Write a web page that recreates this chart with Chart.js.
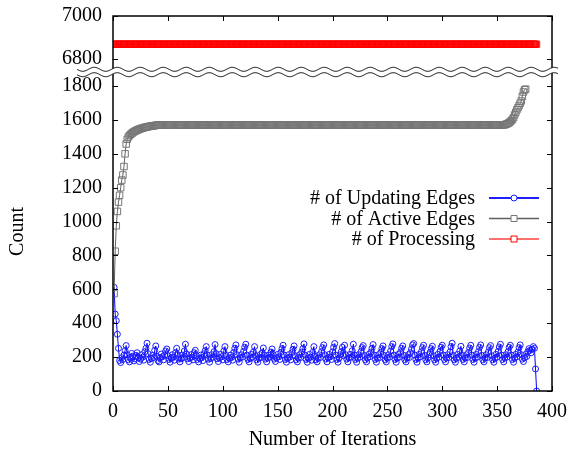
<!DOCTYPE html>
<html>
<head>
<meta charset="utf-8">
<script src="https://cdn.jsdelivr.net/npm/chart.js@4.4.1/dist/chart.umd.min.js"></script>
<style>
html,body{margin:0;padding:0;background:#fff;}
#wrap{width:580px;height:453px;position:relative;}
</style>
</head>
<body>
<div id="wrap"><canvas id="c" width="580" height="453"></canvas></div>
<script>
// ---------- DATA ----------
const seriesLabels = ['# of Updating Edges', '# of Active Edges', '# of Processing'];
const xTickValues = [0, 50, 100, 150, 200, 250, 300, 350, 400];
const yLowerTicks = [0, 200, 400, 600, 800, 1000, 1200, 1400, 1600, 1800];
const yUpperTicks = [6800, 7000];

// iterations 1..386
const updatingEdges = [
612,454,415,335,252,180,168,196,186,212,
238,268,214,184,172,198,222,206,178,190,
210,226,196,174,188,214,200,182,232,252,
282,220,186,170,192,210,198,240,266,204,
180,172,196,218,202,184,212,236,248,208,
186,170,194,214,200,182,226,252,214,188,
172,190,212,198,236,276,218,190,174,196,
214,200,184,226,240,208,186,172,194,212,
198,180,220,238,262,212,188,170,192,214,
200,232,274,220,190,174,196,216,202,184,
236,262,210,186,172,194,212,198,182,228,
252,272,214,188,170,196,214,200,234,258,
276,212,186,172,192,216,200,230,262,208,
184,170,196,214,198,226,254,212,188,172,
194,212,200,230,248,214,188,174,196,216,
202,186,228,250,270,212,186,170,194,214,
200,184,226,246,266,208,184,172,196,214,
198,230,250,278,212,186,170,194,216,200,
182,228,262,208,184,172,194,214,198,232,
256,272,214,188,172,196,216,202,186,230,
258,280,212,186,170,194,214,232,258,208,
270,214,188,172,196,216,200,238,276,212,
186,170,194,214,200,232,256,268,210,184,
172,196,216,202,230,252,274,212,186,170,
194,214,198,228,250,266,210,184,172,196,
214,200,236,262,278,212,186,170,194,216,
200,230,252,266,210,184,172,196,214,198,
226,248,272,280,212,186,170,194,216,202,
232,256,270,210,184,172,196,214,228,250,
264,208,184,170,194,216,200,234,258,270,
212,186,172,196,214,198,230,262,282,210,
184,170,194,216,200,236,264,210,186,172,
196,214,198,228,254,270,212,186,170,194,
216,200,232,258,272,210,184,172,196,214,
198,230,256,268,208,184,170,194,216,200,
234,260,276,212,186,172,196,214,200,232,
258,270,212,186,170,194,216,202,230,256,
272,214,188,174,196,216,204,232,250,240,
226,246,262,252,130,0
];

const activeEdges = [
575,825,975,1060,1115,1155,1200,1245,1275,1325,
1400,1458,1486,1500,1508,1515,1520,1525,1530,1534,
1537,1540,1543,1546,1548,1550,1552,1554,1556,1557,
1559,1560,1562,1563,1564,1565,1566,1567,1568,1569,
1570,1570,1570,1570,1570,1570,1570,1570,1570,1570,
1570,1570,1570,1570,1570,1570,1570,1570,1570,1570,
1570,1570,1570,1570,1570,1570,1570,1570,1570,1570,
1570,1570,1570,1570,1570,1570,1570,1570,1570,1570,
1570,1570,1570,1570,1570,1570,1570,1570,1570,1570,
1570,1570,1570,1570,1570,1570,1570,1570,1570,1570,
1570,1570,1570,1570,1570,1570,1570,1570,1570,1570,
1570,1570,1570,1570,1570,1570,1570,1570,1570,1570,
1570,1570,1570,1570,1570,1570,1570,1570,1570,1570,
1570,1570,1570,1570,1570,1570,1570,1570,1570,1570,
1570,1570,1570,1570,1570,1570,1570,1570,1570,1570,
1570,1570,1570,1570,1570,1570,1570,1570,1570,1570,
1570,1570,1570,1570,1570,1570,1570,1570,1570,1570,
1570,1570,1570,1570,1570,1570,1570,1570,1570,1570,
1570,1570,1570,1570,1570,1570,1570,1570,1570,1570,
1570,1570,1570,1570,1570,1570,1570,1570,1570,1570,
1570,1570,1570,1570,1570,1570,1570,1570,1570,1570,
1570,1570,1570,1570,1570,1570,1570,1570,1570,1570,
1570,1570,1570,1570,1570,1570,1570,1570,1570,1570,
1570,1570,1570,1570,1570,1570,1570,1570,1570,1570,
1570,1570,1570,1570,1570,1570,1570,1570,1570,1570,
1570,1570,1570,1570,1570,1570,1570,1570,1570,1570,
1570,1570,1570,1570,1570,1570,1570,1570,1570,1570,
1570,1570,1570,1570,1570,1570,1570,1570,1570,1570,
1570,1570,1570,1570,1570,1570,1570,1570,1570,1570,
1570,1570,1570,1570,1570,1570,1570,1570,1570,1570,
1570,1570,1570,1570,1570,1570,1570,1570,1570,1570,
1570,1570,1570,1570,1570,1570,1570,1570,1570,1570,
1570,1570,1570,1570,1570,1570,1570,1570,1570,1570,
1570,1570,1570,1570,1570,1570,1570,1570,1570,1570,
1570,1570,1570,1570,1570,1570,1570,1570,1570,1570,
1570,1570,1570,1570,1570,
1571,1572,1574,1577,1580,1584,1590,1596,1604,1614,
1630,1645,1660,1672,1685,1698,1712,1740,1765,1778,
1782
];

const processing = [
6868,6868,6868,6868,6868,6868,6868,6868,6868,6868,
6868,6868,6868,6868,6868,6868,6868,6868,6868,6868,
6868,6868,6868,6868,6868,6868,6868,6868,6868,6868,
6868,6868,6868,6868,6868,6868,6868,6868,6868,6868,
6868,6868,6868,6868,6868,6868,6868,6868,6868,6868,
6868,6868,6868,6868,6868,6868,6868,6868,6868,6868,
6868,6868,6868,6868,6868,6868,6868,6868,6868,6868,
6868,6868,6868,6868,6868,6868,6868,6868,6868,6868,
6868,6868,6868,6868,6868,6868,6868,6868,6868,6868,
6868,6868,6868,6868,6868,6868,6868,6868,6868,6868,
6868,6868,6868,6868,6868,6868,6868,6868,6868,6868,
6868,6868,6868,6868,6868,6868,6868,6868,6868,6868,
6868,6868,6868,6868,6868,6868,6868,6868,6868,6868,
6868,6868,6868,6868,6868,6868,6868,6868,6868,6868,
6868,6868,6868,6868,6868,6868,6868,6868,6868,6868,
6868,6868,6868,6868,6868,6868,6868,6868,6868,6868,
6868,6868,6868,6868,6868,6868,6868,6868,6868,6868,
6868,6868,6868,6868,6868,6868,6868,6868,6868,6868,
6868,6868,6868,6868,6868,6868,6868,6868,6868,6868,
6868,6868,6868,6868,6868,6868,6868,6868,6868,6868,
6868,6868,6868,6868,6868,6868,6868,6868,6868,6868,
6868,6868,6868,6868,6868,6868,6868,6868,6868,6868,
6868,6868,6868,6868,6868,6868,6868,6868,6868,6868,
6868,6868,6868,6868,6868,6868,6868,6868,6868,6868,
6868,6868,6868,6868,6868,6868,6868,6868,6868,6868,
6868,6868,6868,6868,6868,6868,6868,6868,6868,6868,
6868,6868,6868,6868,6868,6868,6868,6868,6868,6868,
6868,6868,6868,6868,6868,6868,6868,6868,6868,6868,
6868,6868,6868,6868,6868,6868,6868,6868,6868,6868,
6868,6868,6868,6868,6868,6868,6868,6868,6868,6868,
6868,6868,6868,6868,6868,6868,6868,6868,6868,6868,
6868,6868,6868,6868,6868,6868,6868,6868,6868,6868,
6868,6868,6868,6868,6868,6868,6868,6868,6868,6868,
6868,6868,6868,6868,6868,6868,6868,6868,6868,6868,
6868,6868,6868,6868,6868,6868,6868,6868,6868,6868,
6868,6868,6868,6868,6868,6868,6868,6868,6868,6868,
6868,6868,6868,6868,6868,6868,6868,6868,6868,6868,
6868,6868,6868,6868,6868,6868,6868,6868,6868,6868,
6868,6868,6868,6868,6868,6868
];

// ---------- CHART ----------
const FONT = "'Liberation Serif', 'Times New Roman', Times, serif";
Chart.defaults.font.family = FONT;
Chart.defaults.font.size = 20;
Chart.defaults.color = '#000';
const tickFont = {family: FONT, size: 20};
const plainLabel = v => String(v);
const noPad = s => { s.paddingTop = 0; s.paddingBottom = 0; s.paddingLeft = 0; s.paddingRight = 0; };

const toPoints = arr => arr.map((v, i) => ({x: i + 1, y: v}));

const framePlugin = {
  id: 'gnuframe',
  afterDatasetsDraw(chart) {
    const {ctx, chartArea: a, scales} = chart;
    const xs = scales.x, yl = scales.y, yt = scales.yTop;
    ctx.save();
    // frame
    ctx.strokeStyle = '#000';
    ctx.lineWidth = 1.5;
    ctx.strokeRect(a.left, a.top, a.right - a.left, a.bottom - a.top);
    // inward ticks (mirrored)
    const tl = 5;
    ctx.lineWidth = 1;
    ctx.beginPath();
    xs.ticks.forEach(t => {
      const px = Math.round(xs.getPixelForValue(t.value)) + 0.5;
      ctx.moveTo(px, a.bottom); ctx.lineTo(px, a.bottom - tl);
      ctx.moveTo(px, a.top); ctx.lineTo(px, a.top + tl);
    });
    [yl, yt].forEach(s => s.ticks.forEach(t => {
      const py = Math.round(s.getPixelForValue(t.value)) + 0.5;
      ctx.moveTo(a.left, py); ctx.lineTo(a.left + tl, py);
      ctx.moveTo(a.right, py); ctx.lineTo(a.right - tl, py);
    }));
    ctx.stroke();
    // axis break (double wavy line) at the junction of the two stacked y scales
    const yb = yt.bottom;
    const x0 = a.left - 36, x1 = a.right + 6;
    const amp = 2.0, period = 23, half = 2.7;
    const wy = (x, off) => yb + off + amp * Math.sin((x - x0) / period * 2 * Math.PI);
    ctx.beginPath();
    for (let x = x0; x <= x1; x += 0.5) { const y = wy(x, -half); if (x === x0) ctx.moveTo(x, y); else ctx.lineTo(x, y); }
    for (let x = x1; x >= x0; x -= 0.5) ctx.lineTo(x, wy(x, half));
    ctx.closePath();
    ctx.fillStyle = '#fff';
    ctx.fill();
    ctx.strokeStyle = '#000';
    ctx.lineWidth = 1;
    [-half, half].forEach(off => {
      ctx.beginPath();
      for (let x = x0; x <= x1; x += 0.5) { const y = wy(x, off); if (x === x0) ctx.moveTo(x, y); else ctx.lineTo(x, y); }
      ctx.stroke();
    });
    ctx.restore();
  },
  afterDraw(chart) {
    // legend, gnuplot style: right-aligned text, sample on the right
    const {ctx} = chart;
    const textRight = 475, lx0 = 489, lx1 = 539, mx = 514;
    const rowY = [198, 218.5, 239];
    ctx.save();
    ctx.font = '20px ' + FONT;
    ctx.textAlign = 'right';
    ctx.textBaseline = 'middle';
    chart.data.datasets.forEach((ds, i) => {
      const y = rowY[i];
      ctx.fillStyle = '#000';
      ctx.fillText(ds.label, textRight, y + 1);
      ctx.strokeStyle = ds.legendLineColor;
      ctx.lineWidth = ds.legendLineWidth;
      ctx.beginPath(); ctx.moveTo(lx0, y); ctx.lineTo(lx1, y); ctx.stroke();
      ctx.strokeStyle = ds.pointBorderColor;
      ctx.lineWidth = 1;
      ctx.fillStyle = '#fff';
      ctx.beginPath();
      if (ds.pointStyle === 'circle') ctx.arc(mx, y, 3, 0, Math.PI * 2);
      else ctx.rect(mx - 3, y - 3, 6, 6);
      ctx.fill(); ctx.stroke();
    });
    ctx.restore();
  }
};

new Chart(document.getElementById('c'), {
  type: 'line',
  data: {
    datasets: [
      {
        label: seriesLabels[0],
        data: toPoints(updatingEdges),
        yAxisID: 'y',
        borderColor: '#0000ff',
        borderWidth: 1,
        pointStyle: 'circle',
        pointRadius: 3,
        pointBorderWidth: 1,
        pointBorderColor: '#1a1aff',
        pointBackgroundColor: 'rgba(0,0,0,0)',
        legendLineColor: '#2020ff',
        legendLineWidth: 2,
        order: 3
      },
      {
        label: seriesLabels[1],
        data: toPoints(activeEdges),
        yAxisID: 'y',
        borderColor: '#606060',
        borderWidth: 1,
        pointStyle: 'rect',
        pointRadius: 4.6,
        pointBorderWidth: 1,
        pointBorderColor: '#777777',
        pointBackgroundColor: 'rgba(0,0,0,0)',
        legendLineColor: '#606060',
        legendLineWidth: 1.5,
        order: 2
      },
      {
        label: seriesLabels[2],
        data: toPoints(processing),
        yAxisID: 'yTop',
        borderColor: '#ff0000',
        borderWidth: 1,
        pointStyle: 'rect',
        pointRadius: 4.3,
        pointBorderWidth: 1,
        pointBorderColor: '#ff0000',
        pointBackgroundColor: 'rgba(0,0,0,0)',
        legendLineColor: '#ff7070',
        legendLineWidth: 2,
        order: 1
      }
    ]
  },
  options: {
    responsive: false,
    devicePixelRatio: 1,
    animation: false,
    events: [],
    layout: {padding: {top: 16, right: 28, left: 0, bottom: 0}},
    plugins: {legend: {display: false}, tooltip: {enabled: false}, title: {display: false}},
    scales: {
      x: {
        type: 'linear',
        position: 'bottom',
        min: 0, max: 400,
        afterBuildTicks: s => { s.ticks = xTickValues.map(v => ({value: v})); },
        afterFit: s => { s.height = 62; noPad(s); },
        grid: {display: false, drawTicks: false},
        border: {display: false},
        ticks: {padding: 9, maxRotation: 0, autoSkip: false, color: '#000', font: tickFont, callback: plainLabel},
        title: {display: true, text: 'Number of Iterations', color: '#000', font: tickFont, padding: {top: 0, bottom: 1}}
      },
      y: {
        type: 'linear',
        position: 'left',
        stack: 'v',
        stackWeight: 319,
        min: 0, max: 1883,
        afterBuildTicks: s => { s.ticks = yLowerTicks.map(v => ({value: v})); },
        afterFit: s => { s.width = 113; noPad(s); },
        grid: {display: false, drawTicks: false},
        border: {display: false},
        ticks: {padding: 11, autoSkip: false, color: '#000', font: tickFont, callback: plainLabel},
        title: {display: true, text: 'Count', color: '#000', font: tickFont, padding: {top: 6, bottom: 0}}
      },
      yTop: {
        type: 'linear',
        position: 'left',
        stack: 'v',
        stackWeight: 56,
        min: 6738, max: 7000,
        afterBuildTicks: s => { s.ticks = yUpperTicks.map(v => ({value: v})); },
        afterFit: s => { s.width = 113; noPad(s); },
        grid: {display: false, drawTicks: false},
        border: {display: false},
        ticks: {padding: 11, autoSkip: false, color: '#000', font: tickFont, callback: plainLabel}
      }
    }
  },
  plugins: [framePlugin]
});
</script>
</body>
</html>
